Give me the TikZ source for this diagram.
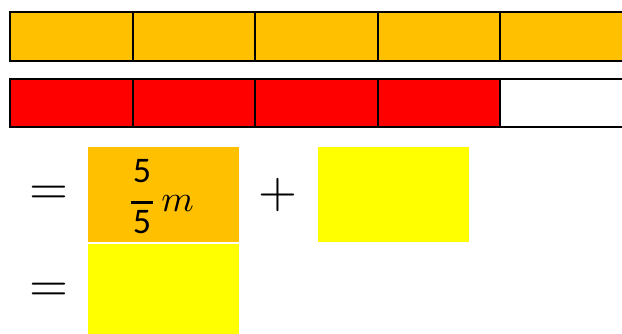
\documentclass[tikz,border=0pt]{standalone}
\usepackage{fontspec}
\newfontfamily\digitfont{Carlito}
\definecolor{barorange}{HTML}{FFC000}
\definecolor{barred}{HTML}{FF0000}
\definecolor{boxyellow}{HTML}{FFFF00}
\tikzset{
  cell/.style={line width=2pt},
  answer/.style={inner sep=0pt, minimum width=151pt},
  digit/.style={inner sep=0pt, anchor=base, font=\digitfont\fontsize{36}{42}\selectfont},
  op/.style={inner sep=0pt}
}
\begin{document}
\begin{tikzpicture}[x=1pt,y=-1pt]
\useasboundingbox (0,0) rectangle (622,333);
\clip (0,0) rectangle (622,333);
\foreach \i in {0,...,4}
  \draw[cell, fill=barorange] (10+122.5*\i,12) rectangle ++(122.5,49.3);
\foreach \i in {0,...,3}
  \draw[cell, fill=barred] (10+122.5*\i,79.3) rectangle ++(122.5,47.7);
\draw[cell] (500,79.3) rectangle ++(122.5,47.7);
\node[answer, fill=barorange, minimum height=95pt] (whole) at (163.5,194.5) {};
\node[answer, fill=boxyellow, minimum height=94.7pt] (rest) at (393.5,194.3) {};
\node[answer, fill=boxyellow, minimum height=90pt] (total) at (163.5,289) {};
% fraction 5/5 m
\node[digit] (num) at (142,182) {5};
\node[digit] (den) at (142,233) {5};
\draw[line width=3pt] (131,202) -- (152.5,202);
\node[op] (unit) at (177.5,204) {\scalebox{3.7}{$m$}};
\node[op] (eqone) at (48.5,195) {\scalebox{5}{$=$}};
\node[op] (plus) at (277.5,194.5) {\scalebox{5}{$+$}};
\node[op] (eqtwo) at (48.5,292) {\scalebox{5}{$=$}};
\end{tikzpicture}
\end{document}
